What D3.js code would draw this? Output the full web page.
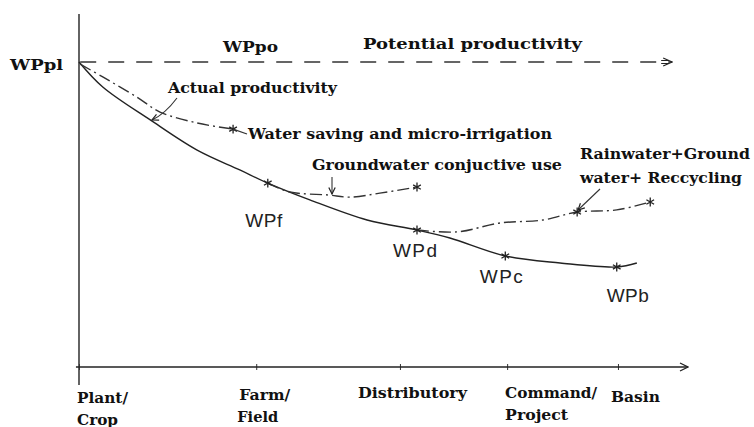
<!DOCTYPE html>
<html>
<head>
<meta charset="utf-8">
<script src="https://cdn.jsdelivr.net/npm/d3@7.9.0/dist/d3.min.js"></script>
<style>
  body { margin: 0; background: #fff; }
  svg { display: block; }
  .lbl { font-family: "DejaVu Serif", serif; font-weight: bold; font-size: 14px; fill: #111; }
  .wp { font-family: "Liberation Sans", Arial, sans-serif; font-size: 19px; fill: #222; }
</style>
</head>
<body>
<svg id="chart" width="754" height="427"></svg>
<script>
// scale levels along the x axis (position units 0-100)
const levels = ['Plant/|Crop', 'Farm/|Field', 'Distributory', 'Command/|Project', 'Basin'];
const levelPos = [0, 29.1, 52.7, 70.3, 88.5];

// actual productivity curve: [position, productivity index]
const actual = [[0, 100], [3.9, 91.8], [11.7, 81.0], [19.4, 71.1], [26.4, 64.6], [31.0, 60.3],
  [37.9, 54.8], [47.3, 48.2], [55.5, 44.9], [60.9, 42.3], [70.0, 36.4], [79.0, 34.1],
  [88.3, 32.8], [91.6, 34.1]];
const waterSaving = [[0.2, 99.3], [3.9, 95.1], [9.5, 88.5], [13.3, 83.6], [19.4, 80.0], [25.3, 78.0]];
const groundwater = [[31.0, 60.3], [34.6, 57.4], [40.9, 56.4], [44.5, 55.7], [49.4, 57.0], [55.5, 59.0]];
const rainwater = [[55.5, 44.9], [62.1, 44.3], [69.1, 47.2], [76.2, 48.2], [81.8, 50.8], [88.3, 51.5], [93.8, 54.1]];
const potential = [[0.2, 100], [97.4, 100]];

// named points on the actual curve
const wpNames = ['WPf', 'WPd', 'WPc', 'WPb'];
const wpPoints = [[31.0, 60.3], [55.5, 44.9], [70.0, 36.4], [88.3, 32.8]];
const stars = [[25.3, 78.0], [55.5, 59.0], [93.8, 54.1], [81.8, 50.8]];

const svg = d3.select('#chart');
const x = d3.scaleLinear().domain([0, 100]).range([79, 688]);
const y = d3.scaleLinear().domain([0, 100]).range([367, 62]);

const defs = svg.append('defs');
defs.append('marker').attr('id', 'open').attr('viewBox', '0 0 10 10')
  .attr('refX', 9).attr('refY', 5).attr('markerWidth', 10).attr('markerHeight', 10)
  .attr('markerUnits', 'userSpaceOnUse').attr('orient', 'auto')
  .append('path').attr('d', 'M1,1 L9,5 L1,9').attr('fill', 'none').attr('stroke', '#222').attr('stroke-width', 1.3);
defs.append('marker').attr('id', 'dbl').attr('viewBox', '0 0 12 10')
  .attr('refX', 11).attr('refY', 5).attr('markerWidth', 12).attr('markerHeight', 10)
  .attr('markerUnits', 'userSpaceOnUse').attr('orient', 'auto')
  .append('path').attr('d', 'M2,1 L11,5 L2,9 M0,3.5 L8,3.5 M0,6.5 L8,6.5').attr('fill', 'none').attr('stroke', '#222').attr('stroke-width', 1.2);
defs.append('marker').attr('id', 'small').attr('viewBox', '0 0 10 10')
  .attr('refX', 9).attr('refY', 5).attr('markerWidth', 8).attr('markerHeight', 8)
  .attr('markerUnits', 'userSpaceOnUse').attr('orient', 'auto')
  .append('path').attr('d', 'M1,1 L9,5 L1,9').attr('fill', 'none').attr('stroke', '#222').attr('stroke-width', 1.5);

// axes
svg.append('line').attr('x1', x(0)).attr('x2', x(0)).attr('y1', y(115.7)).attr('y2', y(-5.9))
  .attr('stroke', '#222').attr('stroke-width', 1.4);
const xAxis = svg.append('g').attr('transform', `translate(0,${y(0)})`)
  .call(d3.axisBottom(x).tickValues(levelPos).tickSize(3).tickSizeOuter(0).tickFormat(''));
xAxis.select('.domain').remove();
xAxis.selectAll('.tick line').attr('y1', -3).attr('stroke', '#333');
svg.append('line').attr('x1', x(-0.5)).attr('x2', x(100)).attr('y1', y(0)).attr('y2', y(0))
  .attr('stroke', '#222').attr('stroke-width', 1.4).attr('marker-end', 'url(#open)');

// category labels (offset from tick, baseline, widths of each line)
const labDx = [-2, -17, -42, -2, -7];
const labY = [403, 400, 398, 398, 402];
const labW = [[51, 41], [51, 41], [109], [92, 63], [49]];
const labLineDx = [[0, 0], [0, -2], [0], [0, 0], [0]];
levels.forEach((s, i) => {
  s.split('|').forEach((part, j) => {
    svg.append('text').attr('class', 'lbl')
      .attr('x', x(levelPos[i]) + labDx[i] + labLineDx[i][j]).attr('y', labY[i] + j * 22)
      .attr('textLength', labW[i][j]).attr('lengthAdjust', 'spacingAndGlyphs').text(part);
  });
});

const line = d3.line().x(d => x(d[0])).y(d => y(d[1])).curve(d3.curveCatmullRom);

svg.append('path').attr('d', line(potential)).attr('fill', 'none').attr('stroke', '#333')
  .attr('stroke-width', 1.3).attr('stroke-dasharray', '16,12').attr('marker-end', 'url(#dbl)');
svg.append('path').attr('d', line(actual)).attr('fill', 'none').attr('stroke', '#222').attr('stroke-width', 1.4);
[waterSaving, groundwater, rainwater].forEach(s => {
  svg.append('path').attr('d', line(s)).attr('fill', 'none').attr('stroke', '#333')
    .attr('stroke-width', 1.4).attr('stroke-dasharray', '12,4,2,4');
});

// star markers
const star = d3.symbol().type(d3.symbolAsterisk).size(55);
svg.selectAll('.star').data(wpPoints.concat(stars)).join('path').attr('class', 'star')
  .attr('transform', d => `translate(${x(d[0])},${y(d[1])})`).attr('d', star)
  .attr('fill', 'none').attr('stroke', '#222').attr('stroke-width', 1.3);

// WP labels
const wpDx = [-4, -2, -4, 11];
const wpDy = [44, 27, 27, 35];
const wpW = [37, 44, 43, 42];
svg.selectAll('.wp').data(wpNames).join('text').attr('class', 'wp')
  .attr('x', (d, i) => x(wpPoints[i][0]) + wpDx[i] - wpW[i] / 2).attr('y', (d, i) => y(wpPoints[i][1]) + wpDy[i])
  .attr('textLength', (d, i) => wpW[i]).attr('lengthAdjust', 'spacing').text(d => d);

// text annotations: text, left x, baseline, width
const notes = [
  ['WPpl', 10, 70, 53], ['WPpo', 223, 52, 55], ['Potential productivity', 363, 49, 219],
  ['Actual productivity', 168, 93, 169], ['Water saving and micro-irrigation', 248, 139, 304],
  ['Groundwater conjuctive use', 312, 170, 250], ['Rainwater+Ground', 580, 159, 170],
  ['water+ Reccycling', 580, 183, 162]
];
svg.selectAll('.note').data(notes).join('text').attr('class', 'lbl note')
  .attr('x', d => d[1]).attr('y', d => d[2])
  .attr('textLength', d => d[3]).attr('lengthAdjust', 'spacingAndGlyphs').text(d => d[0]);

// short connector from water saving star to its label
svg.append('line').attr('x1', x(25.3)).attr('y1', y(78.0)).attr('x2', 247).attr('y2', 134)
  .attr('stroke', '#333').attr('stroke-width', 1.2);

// pointer arrows
svg.append('path').attr('d', 'M177,98 Q165,114 152,120').attr('fill', 'none').attr('stroke', '#333')
  .attr('stroke-width', 1.1).attr('marker-end', 'url(#small)');
svg.append('path').attr('d', 'M332,177 L332,194').attr('fill', 'none').attr('stroke', '#333')
  .attr('stroke-width', 1.1).attr('marker-end', 'url(#small)');
svg.append('path').attr('d', 'M600,189 L578,210').attr('fill', 'none').attr('stroke', '#333')
  .attr('stroke-width', 1.1).attr('marker-end', 'url(#small)');
</script>
</body>
</html>
